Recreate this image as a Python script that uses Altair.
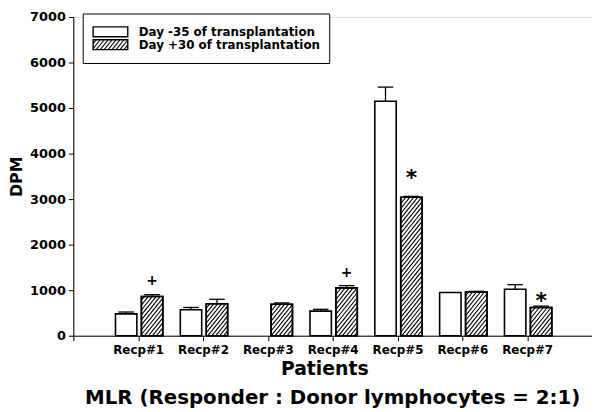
import json
import altair as alt
import pandas as pd

# ---------------- data ----------------
patients = ["Recp#1", "Recp#2", "Recp#3", "Recp#4", "Recp#5", "Recp#6", "Recp#7"]
day_m35 = [480, 570, 0, 540, 5150, 950, 1020]
day_m35_err = [40, 50, 0, 40, 310, 0, 100]
day_p30 = [860, 700, 690, 1050, 3040, 960, 620]
day_p30_err = [40, 100, 30, 50, 20, 15, 30]
annot_text = ["+", "", "", "+", "*", "", "*"]
annot_y = [1200, 0, 0, 1380, 3570, 0, 870]
series_names = ["Day -35 of transplantation", "Day +30 of transplantation"]
y_ticks = [0, 1000, 2000, 3000, 4000, 5000, 6000, 7000]

# ---------------- layout ----------------
W, H = 524, 322
XMAX, YMAX = 8, 7000
XS, YS = W / XMAX, H / YMAX          # px per data unit
FONT = "DejaVu Sans"
OFF_A = (-0.35, -0.02)               # white bar offsets from group tick
OFF_B = (0.05, 0.38)                 # hatched bar offsets
CAP = 0.12
K, D = 1.25, 5.0                     # hatch slope (px) and spacing (px)

xsc = alt.Scale(domain=[0, XMAX], nice=False, zero=False)
ysc = alt.Scale(domain=[0, YMAX], nice=False)

rows = []
for i, p in enumerate(patients):
    g = i + 1
    rows.append(dict(patient=p, series=series_names[0], x0=g + OFF_A[0], x1=g + OFF_A[1],
                     xc=g + (OFF_A[0] + OFF_A[1]) / 2, v=day_m35[i], e=day_m35_err[i]))
    rows.append(dict(patient=p, series=series_names[1], x0=g + OFF_B[0], x1=g + OFF_B[1],
                     xc=g + (OFF_B[0] + OFF_B[1]) / 2, v=day_p30[i], e=day_p30_err[i]))
bars = pd.DataFrame(rows)
bars["top"] = bars["v"] + bars["e"]
bars["c0"] = bars["xc"] - CAP
bars["c1"] = bars["xc"] + CAP
bars_drawn = bars[bars["v"] > 0]
errs = bars[bars["e"] > 0]
hatched = bars_drawn[bars_drawn["series"] == series_names[1]]


def hatch(x0, x1, y0, y1):
    """diagonal hatch segments inside a data-space rectangle"""
    px0, px1, py0, py1 = x0 * XS, x1 * XS, y0 * YS, y1 * YS
    segs = []
    n0 = int((py0 - K * px1) // D) - 1
    n1 = int((py1 - K * px0) // D) + 1
    for n in range(n0, n1 + 1):
        c = n * D
        a = max(px0, (py0 - c) / K)
        b = min(px1, (py1 - c) / K)
        if b - a > 0.3:
            segs.append(dict(hx=a / XS, hy=(K * a + c) / YS, hx2=b / XS, hy2=(K * b + c) / YS))
    return segs


# legend geometry (pixels from the plot's top-left corner)
LB_Y0, LB_Y1 = -3, 47
LX0, LX1 = 20, 55
SW1 = (10, 20)
SW2 = (23, 33)

hseg = []
for _, r in hatched.iterrows():
    hseg += hatch(r["x0"], r["x1"], 0, r["v"])
hseg += hatch(LX0 / XS, LX1 / XS, (H - SW2[1]) / YS, (H - SW2[0]) / YS)
hatch_df = pd.DataFrame(hseg)

ann = pd.DataFrame(dict(x=[i + 1 + (OFF_B[0] + OFF_B[1]) / 2 for i in range(7)],
                        y=annot_y, t=annot_text))
ann = ann[ann["t"] != ""]
ann_plus = ann[ann["t"] == "+"]
ann_star = ann[ann["t"] == "*"]

label_expr = "datum.value >= 1 && datum.value <= 7 ? " + json.dumps(patients) + "[datum.value - 1] : ''"

x_axis = alt.Axis(values=list(range(XMAX + 1)), labelExpr=label_expr, title=None, grid=False,
                  tickSize=5, labelFont=FONT, labelFontWeight="bold", labelFontSize=12,
                  labelColor="black", domainColor="black", tickColor="black", labelPadding=4,
                  labelFlush=False)
y_axis = alt.Axis(values=y_ticks, format="d", title="DPM", grid=False, tickSize=5, labelFont=FONT,
                  labelFontWeight="bold", labelFontSize=13, labelColor="black",
                  domainColor="black", tickColor="black", labelPadding=3,
                  titleFont=FONT, titleFontWeight="bold", titleFontSize=16, titleColor="black",
                  titlePadding=5)

base_bars = alt.Chart(bars_drawn).mark_rect(fill="white", stroke="black", strokeWidth=1.6).encode(
    x=alt.X("x0:Q", scale=xsc, axis=x_axis), x2="x1:Q",
    y=alt.Y("v:Q", scale=ysc, axis=y_axis), y2=alt.datum(0))

hatch_layer = alt.Chart(hatch_df).mark_rule(color="black", strokeWidth=1.1).encode(
    x="hx:Q", x2="hx2:Q", y="hy:Q", y2="hy2:Q")

outline = alt.Chart(hatched).mark_rect(fill=None, fillOpacity=0, stroke="black", strokeWidth=1.6).encode(
    x="x0:Q", x2="x1:Q", y="v:Q", y2=alt.datum(0))

err_line = alt.Chart(errs).mark_rule(color="black", strokeWidth=1.3).encode(
    x="xc:Q", y="v:Q", y2="top:Q")
err_cap = alt.Chart(errs).mark_rule(color="black", strokeWidth=1.3).encode(
    x="c0:Q", x2="c1:Q", y="top:Q")

plus_l = alt.Chart(ann_plus).mark_text(font=FONT, fontWeight="bold", fontSize=14, color="black",
                                       baseline="middle").encode(x="x:Q", y="y:Q", text="t:N")
star_l = alt.Chart(ann_star).mark_text(font=FONT, fontWeight="bold", fontSize=22, color="black",
                                       baseline="middle", dy=5).encode(x="x:Q", y="y:Q", text="t:N")

one = pd.DataFrame({"k": [0]})
leg_box = alt.Chart(one).mark_rect(fill="white", stroke="black", strokeWidth=1).encode(
    x=alt.value(10), x2=alt.value(259), y=alt.value(LB_Y0), y2=alt.value(LB_Y1))
leg_sw1 = alt.Chart(one).mark_rect(fill="white", stroke="black", strokeWidth=1.4).encode(
    x=alt.value(LX0), x2=alt.value(LX1), y=alt.value(SW1[0]), y2=alt.value(SW1[1]))
leg_sw2 = alt.Chart(one).mark_rect(fill=None, fillOpacity=0, stroke="black", strokeWidth=1.4).encode(
    x=alt.value(LX0), x2=alt.value(LX1), y=alt.value(SW2[0]), y2=alt.value(SW2[1]))
leg_t1 = alt.Chart(one).mark_text(text=series_names[0], font=FONT, fontWeight="bold", fontSize=12,
                                  align="left", baseline="middle", color="black").encode(
    x=alt.value(66), y=alt.value((SW1[0] + SW1[1]) / 2))
leg_t2 = alt.Chart(one).mark_text(text=series_names[1], font=FONT, fontWeight="bold", fontSize=12,
                                  align="left", baseline="middle", color="black").encode(
    x=alt.value(66), y=alt.value((SW2[0] + SW2[1]) / 2))

x_title = alt.Chart(one).mark_text(text="Patients", font=FONT, fontWeight="bold", fontSize=19,
                                   align="center", baseline="middle", color="black").encode(
    x=alt.value(W / 2 - 8), y=alt.value(H + 34))
sub_title = alt.Chart(one).mark_text(text="MLR (Responder : Donor lymphocytes = 2:1)", font=FONT,
                                     fontWeight="bold", fontSize=20, align="center",
                                     baseline="middle", color="black").encode(
    x=alt.value(W / 2), y=alt.value(H + 63))

chart = alt.layer(
    leg_box, base_bars, hatch_layer, outline, err_line, err_cap, plus_l, star_l,
    leg_sw1, leg_sw2, leg_t1, leg_t2, x_title, sub_title
).properties(
    width=W, height=H,
    autosize=alt.AutoSizeParams(type="none"),
    padding={"left": 66, "top": 7, "right": 0, "bottom": 74},
).configure_view(stroke=None).configure(background="white")

chart.save("out.html", embed_options={"renderer": "svg", "actions": False})
